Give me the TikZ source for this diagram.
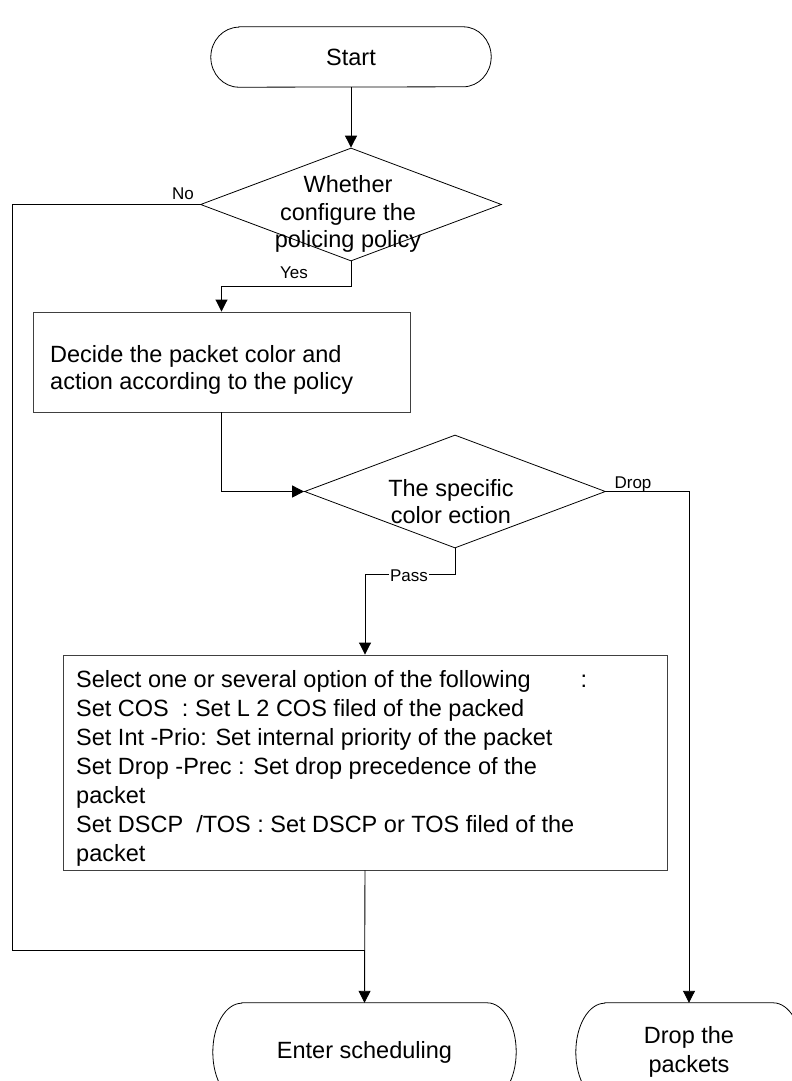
\documentclass[tikz,border=0pt]{standalone}
\usepackage{fontspec}
\setmainfont{Liberation Sans}
\usetikzlibrary{shapes.geometric,arrows.meta,calc}
\begin{document}
\begin{tikzpicture}[x=1pt,y=1pt,
  line/.style={draw=black,line width=0.9pt},
  arr/.style={line,-{Triangle[length=12pt,width=12pt]}},
  box/.style={draw=black!75,line width=0.9pt,rectangle,inner sep=0pt},
  dia/.style={draw=black,line width=0.8pt,diamond,inner sep=0pt,minimum width=301pt,minimum height=113pt},
  term/.style={inner sep=0pt},
  termline/.style={draw=black,line width=0.8pt},
  txt/.style={font=\fontsize{23.5}{27.5}\selectfont,inner sep=0pt,align=center},
  lbl/.style={font=\fontsize{17}{20}\selectfont,inner sep=1pt},
]
\useasboundingbox (0,0) rectangle (792,-1081);
\clip (0,0) rectangle (792,-1081);
\fill[white] (0,0) rectangle (792,-1081);

% start terminal
\node[term,txt,minimum width=280pt,minimum height=60pt] (start) at (351,-57) {Start};
\draw[termline] ([xshift=28pt]start.north west) -- ([xshift=-28pt]start.north east)
  arc[start angle=90,end angle=-90,x radius=28,y radius=30]
  -- ([xshift=28pt]start.south west)
  arc[start angle=270,end angle=90,x radius=28,y radius=30] -- cycle;

% decision 1
\node[dia] (d1) at (351,-204.5) {};
\node[txt] (d1t) at (348,-214) {Whether\\configure the\\policing policy};

% process 1
\node[box,minimum width=377pt,minimum height=100pt] (box1) at (221.5,-362) {};
\node[txt,anchor=west,align=left,font=\fontsize{23.5}{26.5}\selectfont] (box1t) at (50,-370)
  {Decide the packet color and\\action according to the policy};

% decision 2
\node[dia] (d2) at (455,-491.5) {};
\node[txt] (d2t) at (451,-501.5) {The specific\\color ection};

% process 2
\node[box,minimum width=604pt,minimum height=215pt] (box2) at (365,-762.5) {};
\node[txt,anchor=west,align=left,font=\fontsize{23.5}{29}\selectfont] (box2t) at (76,-768)
  {Select one or several option of the following\hspace{50pt}:\\
   Set COS\ \ : Set L 2 COS filed of the packed\\
   Set Int -Prio: Set internal priority of the packet\\
   Set Drop\ -Prec : Set drop precedence of the\\
   packet\\
   Set DSCP\ \ /TOS : Set DSCP or TOS filed of the\\
   packet};

% end terminals
\node[term,txt,minimum width=303pt,minimum height=98pt] (enter) at (364.5,-1052) {Enter scheduling};
\draw[termline] ([xshift=29pt]enter.north west) -- ([xshift=-29pt]enter.north east)
  arc[start angle=90,end angle=-90,x radius=29,y radius=49]
  -- ([xshift=29pt]enter.south west)
  arc[start angle=270,end angle=90,x radius=29,y radius=49] -- cycle;

\node[term,txt,font=\fontsize{23.5}{29}\selectfont,minimum width=226pt,minimum height=98pt] (drop) at (689,-1052) {Drop the\\packets};
\draw[termline] ([xshift=29pt]drop.north west) -- ([xshift=-29pt]drop.north east)
  arc[start angle=90,end angle=-90,x radius=29,y radius=49]
  -- ([xshift=29pt]drop.south west)
  arc[start angle=270,end angle=90,x radius=29,y radius=49] -- cycle;

% helper coordinates
\coordinate (lft) at (12,-950);
\coordinate (jn) at (365,-950);

% connectors
\draw[arr] (start.south) -- (d1.north);
\draw[line] (d1.west) -| (lft) -- (jn);
\draw[arr] (d1.south) -- ++(0,-25) -| (box1.north);
\draw[arr] (box1.south) |- (d2.west);
\draw[arr] (d2.east) -| (drop.north);
\draw[arr] (d2.south) -- ++(0,-26) -| (box2.north);
\draw[arr] (box2.south) -- (enter.north);

% labels
\node[lbl] (nol) at (183,-194) {No};
\node[lbl] (yesl) at (294,-273) {Yes};
\node[lbl] (dropl) at (633,-484) {Drop};
\node[lbl,fill=white] (passl) at (409,-576) {Pass};
\end{tikzpicture}
\end{document}
